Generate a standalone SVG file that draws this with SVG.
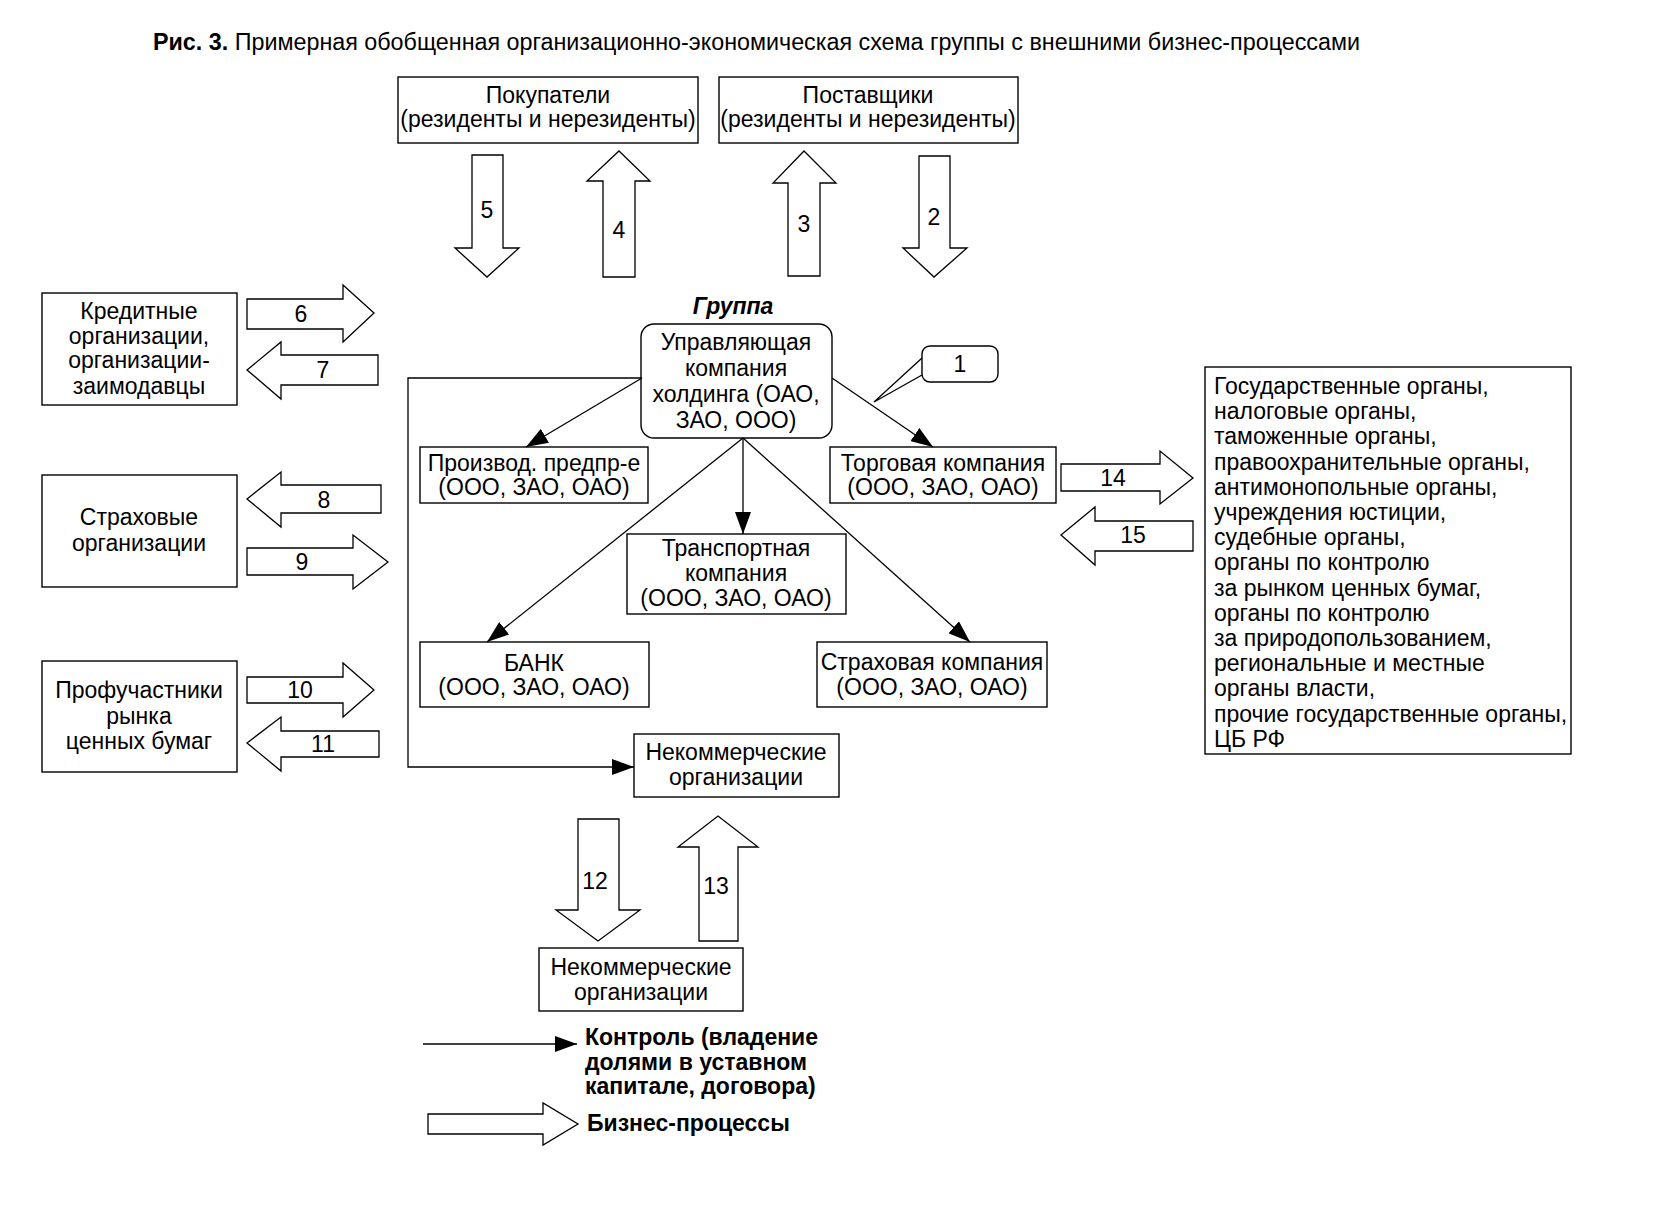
<svg xmlns="http://www.w3.org/2000/svg" width="1653" height="1214" viewBox="0 0 1653 1214">
<style>
text{font-family:"Liberation Sans",Arial,sans-serif;font-size:23px;fill:#000}
.c{text-anchor:middle}
.box{fill:#fff;stroke:#000;stroke-width:1.4}
.pa{fill:#fff;stroke:#000;stroke-width:1.3}
.ln{fill:none;stroke:#000;stroke-width:1.3}
.b{font-weight:bold}
</style>
<defs>
<marker id="ah" markerUnits="userSpaceOnUse" markerWidth="22" markerHeight="16" viewBox="0 0 22 16" refX="22" refY="8" orient="auto">
<path d="M0,0 L22,8 L0,16 z" fill="#000"/>
</marker>
</defs>
<rect width="1653" height="1214" fill="#fff"/>
<text x="153" y="50" font-size="21" textLength="1207" lengthAdjust="spacingAndGlyphs"><tspan class="b">Рис. 3.</tspan> Примерная обобщенная организационно-экономическая схема группы  с внешними бизнес-процессами</text>

<g id="buyers"><rect class="box" x="398" y="77" width="300" height="66"/>
<text class="c" x="548" y="103">Покупатели</text><text class="c" x="548" y="127">(резиденты и нерезиденты)</text></g>
<g id="suppliers"><rect class="box" x="719" y="77" width="299" height="66"/>
<text class="c" x="868" y="103">Поставщики</text><text class="c" x="868" y="127">(резиденты и нерезиденты)</text></g>

<g id="credit"><rect class="box" x="42" y="293" width="195" height="112"/>
<text class="c" x="139" y="319">Кредитные</text><text class="c" x="139" y="344">организации,</text><text class="c" x="139" y="368">организации-</text><text class="c" x="139" y="394">заимодавцы</text></g>
<g id="insurers"><rect class="box" x="42" y="475" width="195" height="112"/>
<text class="c" x="139" y="525">Страховые</text><text class="c" x="139" y="551">организации</text></g>
<g id="profs"><rect class="box" x="42" y="661" width="195" height="111"/>
<text class="c" x="139" y="698">Профучастники</text><text class="c" x="139" y="724">рынка</text><text class="c" x="139" y="749">ценных бумаг</text></g>

<text id="group-label" class="c b" x="733" y="314" font-style="italic">Группа</text>
<g id="holding"><rect class="box" x="641" y="324" width="191" height="114" rx="13"/>
<text class="c" x="736" y="350">Управляющая</text><text class="c" x="736" y="376">компания</text><text class="c" x="736" y="402">холдинга (ОАО,</text><text class="c" x="736" y="428">ЗАО, ООО)</text></g>
<g id="callout1"><path class="ln" d="M922,358 L874,402 L922,375"/><rect class="box" x="922" y="346" width="76" height="36" rx="8"/>
<text class="c" x="960" y="372">1</text></g>

<g id="prod"><rect class="box" x="420" y="447" width="228" height="56"/>
<text class="c" x="534" y="471">Производ. предпр-е</text><text class="c" x="534" y="495">(ООО, ЗАО, ОАО)</text></g>
<g id="trade"><rect class="box" x="830" y="447" width="226" height="56"/>
<text class="c" x="943" y="471">Торговая компания</text><text class="c" x="943" y="495">(ООО, ЗАО, ОАО)</text></g>
<g id="transport"><rect class="box" x="627" y="534" width="219" height="80"/>
<text class="c" x="736" y="556">Транспортная</text><text class="c" x="736" y="581">компания</text><text class="c" x="736" y="606">(ООО, ЗАО, ОАО)</text></g>
<g id="bank"><rect class="box" x="420" y="642" width="229" height="65"/>
<text class="c" x="534" y="671">БАНК</text><text class="c" x="534" y="695">(ООО, ЗАО, ОАО)</text></g>
<g id="inscomp"><rect class="box" x="817" y="642" width="230" height="65"/>
<text class="c" x="932" y="670">Страховая компания</text><text class="c" x="932" y="695">(ООО, ЗАО, ОАО)</text></g>
<g id="nko1"><rect class="box" x="634" y="734" width="205" height="63"/>
<text class="c" x="736" y="760">Некоммерческие</text><text class="c" x="736" y="785">организации</text></g>
<g id="nko2"><rect class="box" x="539" y="948" width="204" height="63"/>
<text class="c" x="641" y="975">Некоммерческие</text><text class="c" x="641" y="1000">организации</text></g>

<g id="gov"><rect class="box" x="1205" y="367" width="366" height="387"/>
<text x="1214" y="394">Государственные органы,</text>
<text x="1214" y="419">налоговые органы,</text>
<text x="1214" y="444">таможенные органы,</text>
<text x="1214" y="470">правоохранительные органы,</text>
<text x="1214" y="495">антимонопольные органы,</text>
<text x="1214" y="520">учреждения юстиции,</text>
<text x="1214" y="545">судебные органы,</text>
<text x="1214" y="570">органы по контролю</text>
<text x="1214" y="596">за рынком ценных бумаг,</text>
<text x="1214" y="621">органы по контролю</text>
<text x="1214" y="646">за природопользованием,</text>
<text x="1214" y="671">региональные и местные</text>
<text x="1214" y="696">органы власти,</text>
<text x="1214" y="722">прочие государственные органы,</text>
<text x="1214" y="747">ЦБ РФ</text></g>

<g id="connectors">
<line class="ln" x1="642" y1="378" x2="526" y2="447" marker-end="url(#ah)"/>
<line class="ln" x1="832" y1="378" x2="933" y2="447" marker-end="url(#ah)"/>
<line class="ln" x1="743" y1="438" x2="743" y2="534" marker-end="url(#ah)"/>
<line class="ln" x1="743" y1="438" x2="487" y2="642" marker-end="url(#ah)"/>
<line class="ln" x1="743" y1="438" x2="970" y2="642" marker-end="url(#ah)"/>
<path class="ln" d="M642,378 H408 V767 H634" marker-end="url(#ah)"/>
</g>

<g id="process-arrows">
<polygon class="pa" points="472,155 503,155 503,248 519,248 487,277 455,248 472,248"/><text class="c" x="487" y="218">5</text>
<polygon class="pa" points="603,277 635,277 635,181 650,181 619,151 587,181 603,181"/><text class="c" x="619" y="238">4</text>
<polygon class="pa" points="788,276 820,276 820,183 836,183 804,151 773,183 788,183"/><text class="c" x="804" y="232">3</text>
<polygon class="pa" points="919,156 950,156 950,248 967,248 934,277 903,248 919,248"/><text class="c" x="934" y="225">2</text>
<polygon class="pa" points="247,299 343,299 343,285 374,313 343,342 343,329 247,329"/><text class="c" x="301" y="322">6</text>
<polygon class="pa" points="378,355 281,355 281,342 247,370 281,399 281,385 378,385"/><text class="c" x="323" y="378">7</text>
<polygon class="pa" points="381,485 281,485 281,472 247,499 281,527 281,513 381,513"/><text class="c" x="324" y="508">8</text>
<polygon class="pa" points="247,548 353,548 353,535 388,562 353,589 353,575 247,575"/><text class="c" x="302" y="570">9</text>
<polygon class="pa" points="247,677 343,677 343,663 374,690 343,717 343,703 247,703"/><text class="c" x="300" y="698">10</text>
<polygon class="pa" points="379,731 281,731 281,717 247,743 281,771 281,757 379,757"/><text class="c" x="323" y="752">11</text>
<polygon class="pa" points="1061,464 1160,464 1160,451 1193,478 1160,504 1160,491 1061,491"/><text class="c" x="1113" y="486">14</text>
<polygon class="pa" points="1193,521 1095,521 1095,507 1061,535 1095,565 1095,551 1193,551"/><text class="c" x="1133" y="543">15</text>
<polygon class="pa" points="578,819 619,819 619,910 640,910 598,941 556,910 578,910"/><text class="c" x="595" y="889">12</text>
<polygon class="pa" points="699,941 738,941 738,847 758,847 718,816 678,847 699,847"/><text class="c" x="716" y="894">13</text>
</g>

<g id="legend">
<line class="ln" x1="423" y1="1044" x2="577" y2="1044" marker-end="url(#ah)"/>
<text class="b" x="585" y="1045">Контроль (владение</text>
<text class="b" x="585" y="1070">долями в уставном</text>
<text class="b" x="585" y="1094">капитале, договора)</text>
<polygon class="pa" points="428,1114 543,1114 543,1103 578,1124 543,1145 543,1134 428,1134"/>
<text class="b" x="587" y="1131">Бизнес-процессы</text>
</g>
</svg>
